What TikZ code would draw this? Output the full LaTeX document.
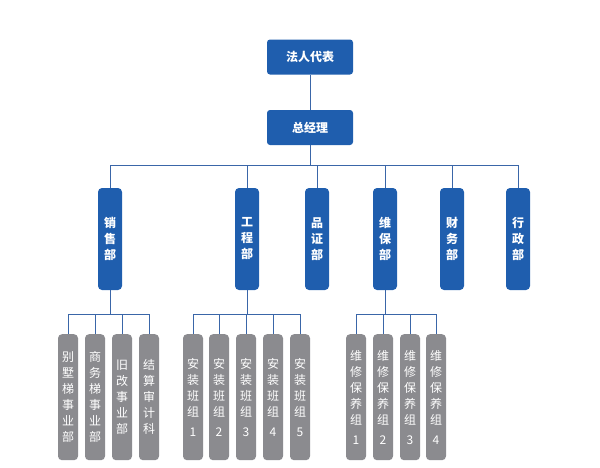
\documentclass[tikz,border=0pt]{standalone}
\usepackage{fontspec}
\newfontfamily\cjk{Noto Sans CJK SC}
\definecolor{bluebox}{HTML}{1F5EAE}
\definecolor{graybox}{HTML}{8B8B8F}
\definecolor{linec}{HTML}{3A66A8}
\begin{document}
\begin{tikzpicture}[x=1pt,y=-1pt,
  top/.style={fill=bluebox,rounded corners=3pt,minimum width=86pt,minimum height=35pt,text=white,font=\cjk\fontsize{12}{14}\selectfont\bfseries,inner sep=0pt},
  dept/.style={fill=bluebox,rounded corners=4pt,minimum width=24pt,minimum height=102pt,text=white,font=\cjk\fontsize{12}{16}\selectfont\bfseries,align=center,inner sep=0pt},
  sub/.style={fill=graybox,rounded corners=4pt,minimum width=20pt,minimum height=126pt,text=white,font=\cjk\fontsize{12}{16}\selectfont,align=center,inner sep=0pt},
  ln/.style={draw=linec,line width=1pt}]
\useasboundingbox (0,0) rectangle (600,467);
\node[top] (fr) at (310,57) {法人代表};
\node[top] (gm) at (310,127.5) {总经理};
\draw[ln] (fr) -- (gm);
\foreach \n/\x/\t in {xs/110/销\\售\\部, gc/247/工\\程\\部, pz/317/品\\证\\部, wb/385/维\\保\\部, cw/452/财\\务\\部, xz/518/行\\政\\部}
  \node[dept] (\n) at (\x,239) {\t};
\coordinate (bus) at (310,165);
\draw[ln] (gm) -- (bus);
\foreach \n in {xs,gc,pz,wb,cw,xz} \draw[ln] (\n.north) |- (bus);
% sales subs
\foreach \n/\x/\t in {s1/68/别\\墅\\梯\\事\\业\\部, s2/95/商\\务\\梯\\事\\业\\部, s3/122/旧\\改\\事\\业\\部, s4/149/结\\算\\审\\计\\科}
  \node[sub,anchor=north] (\n) at (\x,334) {\t};
\foreach \n/\x/\i in {a1/193/1, a2/219/2, a3/246/3, a4/273/4, a5/300/5}
  \node[sub,anchor=north] (\n) at (\x,334) {安\\装\\班\\组\\[4pt]\i};
\foreach \n/\x/\i in {w1/356/1, w2/383/2, w3/410/3, w4/436/4}
  \node[sub,anchor=north] (\n) at (\x,334) {维\\修\\保\\养\\组\\[4pt]\i};
\coordinate (sb) at (110,314);
\coordinate (gb) at (247,314);
\coordinate (wbb) at (385,314);
\draw[ln] (xs) -- (sb);
\draw[ln] (gc) -- (gb);
\draw[ln] (wb) -- (wbb);
\foreach \n in {s1,s2,s3,s4} \draw[ln] (\n.north) |- (sb);
\foreach \n in {a1,a2,a3,a4,a5} \draw[ln] (\n.north) |- (gb);
\foreach \n in {w1,w2,w3,w4} \draw[ln] (\n.north) |- (wbb);
\end{tikzpicture}
\end{document}
